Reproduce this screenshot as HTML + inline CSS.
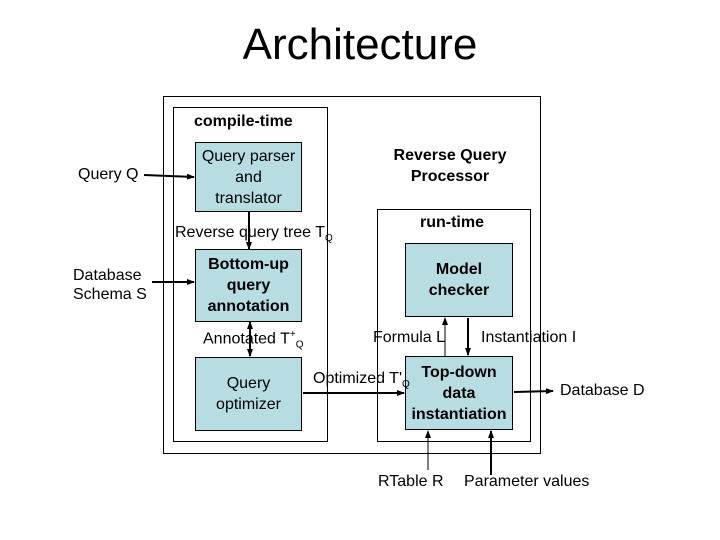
<!DOCTYPE html>
<html><head><style>
body{margin:0;width:720px;height:540px;background:#fff;position:relative;overflow:hidden;font-family:"Liberation Sans",Arial,sans-serif}
.t{position:absolute;white-space:nowrap;font-size:16px;color:#000}
.b{font-weight:bold}
.box{position:absolute;background:#b7dde3;border:1px solid #000;box-sizing:border-box;display:flex;align-items:center;justify-content:center;text-align:center;font-size:16px;line-height:21px}
</style></head><body>
<div class="t" style="left:0;width:720px;text-align:center;top:20px;font-size:44px">Architecture</div>
<svg width="720" height="540" style="position:absolute;left:0;top:0">
<defs><marker id="a" markerWidth="8" markerHeight="8" refX="7" refY="4" orient="auto" markerUnits="userSpaceOnUse"><path d="M0,1 L8,4 L0,7z" fill="#000"/></marker></defs>
<rect x="163.5" y="96.5" width="377" height="357" fill="none" stroke="#000"/>
<rect x="173.5" y="107.5" width="154" height="334" fill="none" stroke="#000"/>
<rect x="377.5" y="209.5" width="153" height="232" fill="none" stroke="#000"/>
<g stroke="#000" stroke-width="2" fill="none">
<line x1="144" y1="175" x2="194" y2="177" marker-end="url(#a)"/>
<line x1="152" y1="282" x2="194" y2="282" marker-end="url(#a)"/>
<line x1="249" y1="212" x2="249" y2="249" marker-end="url(#a)"/>
<line x1="250" y1="335" x2="250" y2="322" marker-end="url(#a)"/>
<line x1="250" y1="335" x2="250" y2="356" marker-end="url(#a)"/>
<line x1="303" y1="393" x2="404" y2="393" marker-end="url(#a)"/>
<line x1="445" y1="356" x2="445" y2="318" stroke-width="1" marker-end="url(#a)"/>
<line x1="468" y1="318" x2="468" y2="355" marker-end="url(#a)"/>
<line x1="514" y1="392" x2="553" y2="391" marker-end="url(#a)"/>
<line x1="428" y1="470" x2="428" y2="431" stroke-width="1" marker-end="url(#a)"/>
<line x1="491" y1="475" x2="491" y2="431" marker-end="url(#a)"/>
</g>
</svg>
<div class="t b" style="left:194px;top:113px">compile-time</div>
<div class="box" style="left:195px;top:142px;width:107px;height:70px">Query parser<br>and<br>translator</div>
<div class="box b" style="left:195px;top:249px;width:107px;height:73px">Bottom-up<br>query<br>annotation</div>
<div class="box" style="left:195px;top:357px;width:107px;height:74px">Query<br>optimizer</div>
<div class="t b" style="left:380px;top:145px;width:140px;text-align:center;line-height:21px">Reverse Query<br>Processor</div>
<div class="t b" style="left:420px;top:214px">run-time</div>
<div class="box b" style="left:405px;top:243px;width:108px;height:74px">Model<br>checker</div>
<div class="box b" style="left:405px;top:356px;width:108px;height:74px">Top-down<br>data<br>instantiation</div>
<div class="t" style="left:78px;top:166px">Query Q</div>
<div class="t" style="left:73px;top:266px;line-height:19px">Database<br>Schema S</div>
<div class="t" style="left:175px;top:224px">Reverse query tree T<sub style="font-size:10px">Q</sub></div>
<div class="t" style="left:203px;top:329px">Annotated T<sup style="font-size:10px">+</sup><sub style="font-size:10px">Q</sub></div>
<div class="t" style="left:313px;top:370px">Optimized T'<sub style="font-size:10px">Q</sub></div>
<div class="t" style="left:373px;top:329px">Formula L</div>
<div class="t" style="left:481px;top:329px">Instantiation I</div>
<div class="t" style="left:560px;top:382px">Database D</div>
<div class="t" style="left:378px;top:473px">RTable R</div>
<div class="t" style="left:464px;top:473px">Parameter values</div>
</body></html>
